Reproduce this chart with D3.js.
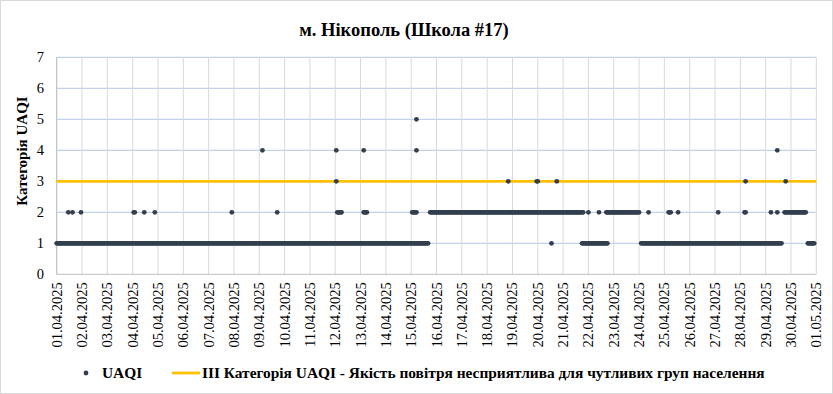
<!DOCTYPE html>
<html>
<head>
<meta charset="utf-8">
<script src="https://cdn.jsdelivr.net/npm/d3@7"></script>
<style>
  html, body { margin: 0; padding: 0; background: #fff; }
  svg { display: block; }
  svg text { font-family: "Liberation Serif", "Times New Roman", Times, "DejaVu Serif", serif; }
</style>
</head>
<body>
<svg id="chart" width="833" height="394"></svg>
<script>
// ---- Data ----
const chartTitle = "м. Нікополь (Школа #17)";
const yAxisTitle = "Категорія UAQI";
const seriesName = "UAQI";
const thresholdName = "ІІІ Категорія UAQI - Якість повітря несприятлива для чутливих груп населення";
const thresholdValue = 3;
const startDate = "2025-04-01T00:00:00Z";
const endDate = "2025-05-01T00:00:00Z";
const yTicks = [0, 1, 2, 3, 4, 5, 6, 7];
// hourly observations, as [firstHour, lastHour] runs (hours since startDate) per UAQI category
const cat1Runs = [[0, 352], [469, 469], [498, 522], [554, 687], [712, 718]];
const cat2Runs = [[11, 11], [15, 15], [23, 23], [73, 74], [83, 83], [93, 93], [166, 166], [209, 209],
  [266, 270], [291, 294], [337, 341], [354, 499], [504, 504], [514, 514], [521, 552], [561, 561],
  [580, 582], [589, 589], [627, 627], [652, 653], [677, 677], [683, 683], [690, 710]];
const cat3Hours = [265, 428, 455, 456, 474, 653, 691];
const cat4Hours = [195, 265, 291, 341, 683];
const cat5Hours = [341];

// ---- Build points ----
const t0 = new Date(startDate);
const hourToDate = h => new Date(t0.getTime() + h * 3600 * 1000);
const points = [];
function addRuns(runs, v) {
  runs.forEach(([a, b]) => { for (let h = a; h <= b; h++) points.push({ t: hourToDate(h), v }); });
}
addRuns(cat1Runs, 1);
addRuns(cat2Runs, 2);
addRuns(cat3Hours.map(h => [h, h]), 3);
addRuns(cat4Hours.map(h => [h, h]), 4);
addRuns(cat5Hours.map(h => [h, h]), 5);

// ---- Layout ----
const svg = d3.select("#chart");
const W = 833, H = 394;
const plot = { left: 56.7, right: 816.3, top: 57.3, bottom: 274.3 };

svg.append("rect").attr("x", 0.5).attr("y", 0.5).attr("width", W - 1).attr("height", H - 1)
  .attr("fill", "#fff").attr("stroke", "#d9d9d9");

const x = d3.scaleUtc().domain([new Date(startDate), new Date(endDate)]).range([plot.left, plot.right]);
const y = d3.scaleLinear().domain([0, 7]).range([plot.bottom, plot.top]);
const dayTicks = d3.utcDay.range(new Date(startDate), d3.utcDay.offset(new Date(endDate), 1));
const fmt = d3.utcFormat("%d.%m.%Y");

// horizontal gridlines
svg.append("g").selectAll("line").data(yTicks.filter(d => d > 0)).join("line")
  .attr("x1", plot.left).attr("x2", plot.right)
  .attr("y1", d => y(d)).attr("y2", d => y(d))
  .attr("stroke", "#b4c7e7").attr("stroke-width", 1);

// vertical gridlines
svg.append("g").selectAll("line").data(dayTicks).join("line")
  .attr("x1", d => x(d)).attr("x2", d => x(d))
  .attr("y1", plot.top).attr("y2", plot.bottom)
  .attr("stroke", "#d9d9d9").attr("stroke-width", 1);

// axes lines
svg.append("line").attr("x1", plot.left).attr("x2", plot.left).attr("y1", plot.top).attr("y2", plot.bottom)
  .attr("stroke", "#bfbfbf");
svg.append("line").attr("x1", plot.left).attr("x2", plot.right).attr("y1", plot.bottom).attr("y2", plot.bottom)
  .attr("stroke", "#bfbfbf");

// y tick labels
svg.append("g").selectAll("text").data(yTicks).join("text")
  .attr("x", 44).attr("y", d => y(d) + 5)
  .attr("text-anchor", "end").attr("font-size", 14.5)
  .text(d => d);

// x tick labels
svg.append("g").selectAll("text").data(dayTicks).join("text")
  .attr("transform", d => `translate(${x(d) + 5},${plot.bottom + 8}) rotate(-90)`)
  .attr("text-anchor", "end").attr("font-size", 14.5)
  .text(d => fmt(d));

// threshold line
svg.append("line")
  .attr("x1", plot.left).attr("x2", plot.right)
  .attr("y1", y(thresholdValue)).attr("y2", y(thresholdValue))
  .attr("stroke", "#ffc000").attr("stroke-width", 2.75);

// points
svg.append("g").selectAll("circle").data(points).join("circle")
  .attr("cx", d => x(d.t)).attr("cy", d => y(d.v)).attr("r", 2.4)
  .attr("fill", "#333f50");

// title
svg.append("text").attr("x", 404).attr("y", 36).attr("text-anchor", "middle")
  .attr("font-size", 18.5).attr("font-weight", "bold").text(chartTitle);

// y axis title
svg.append("text").attr("transform", "translate(26.5,151) rotate(-90)")
  .attr("text-anchor", "middle").attr("font-size", 15).attr("font-weight", "bold").text(yAxisTitle);

// legend
const lg = svg.append("g");
lg.append("circle").attr("cx", 86).attr("cy", 373).attr("r", 2.4).attr("fill", "#333f50");
lg.append("text").attr("x", 102).attr("y", 378).attr("font-size", 15.4).attr("font-weight", "bold").text(seriesName);
lg.append("line").attr("x1", 172).attr("x2", 200).attr("y1", 373).attr("y2", 373)
  .attr("stroke", "#ffc000").attr("stroke-width", 2.75);
lg.append("text").attr("x", 202).attr("y", 378).attr("font-size", 15.4).attr("font-weight", "bold").text(thresholdName);
</script>
</body>
</html>
